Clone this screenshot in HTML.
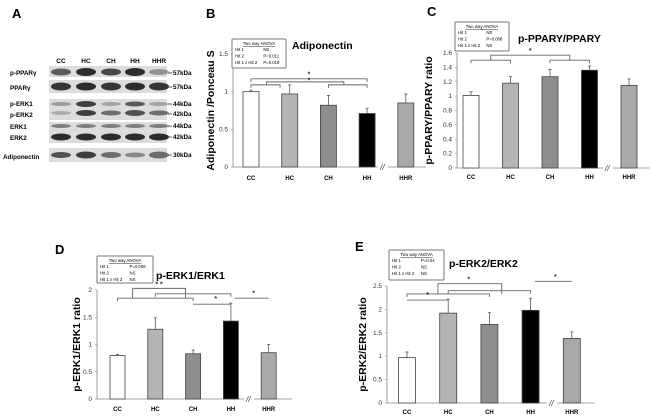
<!DOCTYPE html>
<html><head><meta charset="utf-8"><style>
body{margin:0;background:#fff;}
svg{display:block;font-family:"Liberation Sans",sans-serif;}
</style></head><body>
<svg id="fig" width="650" height="418" viewBox="0 0 650 418">
<g id="blot"></g>
</svg>
<script>
const cats = ["CC","HC","CH","HH","HHR"];
const adipoVals = [1.0,0.97,0.82,0.71,0.85];
const adipoErr = [0.02,0.12,0.13,0.07,0.12];
const pparVals = [1.01,1.18,1.27,1.36,1.15];
const pparErr = [0.05,0.09,0.10,0.06,0.09];
const erk1Vals = [0.80,1.28,0.83,1.43,0.85];
const erk1Err = [0.02,0.21,0.07,0.33,0.15];
const erk2Vals = [0.97,1.92,1.68,1.98,1.38];
const erk2Err = [0.12,0.30,0.25,0.26,0.14];
const adipoTicks = ["0","0.5","1","1.5"];
const pparTicks = ["0","0.2","0.4","0.6","0.8","1","1.2","1.4","1.6"];
const erk1Ticks = ["0","0.5","1","1.5","2"];
const erk2Ticks = ["0","0.5","1","1.5","2","2.5"];
const fills = ["#ffffff","#b4b4b4","#8e8e8e","#000000","#a9a9a9"];

const NS="http://www.w3.org/2000/svg";
const svg=document.getElementById('fig');
function mk(tag,attrs,parent,text){const e=document.createElementNS(NS,tag);for(const k in attrs)e.setAttribute(k,attrs[k]);if(text!==undefined)e.textContent=text;(parent||svg).appendChild(e);return e;}

function panel(o){
  const g=mk('g',{});
  
  
  const yMax=parseFloat(o.ticks[o.ticks.length-1]);
  const y=v=>o.y0-(v/yMax)*(o.y0-o.yTop);
  // letter
  const L=mk('text',{x:o.letter[0],y:o.letter[1],'font-size':13,'font-weight':'bold'},g,o.letterText);
  
  
  // y axis
  const ya=mk('line',{x1:o.ax,x2:o.ax,y1:o.yTop,y2:o.y0,stroke:'#888','stroke-width':0.8},g);
  
  
  o.ticks.forEach(t=>{
    const v=parseFloat(t);
    mk('line',{x1:o.ax-2,x2:o.ax,y1:y(v),y2:y(v),stroke:'#888','stroke-width':0.6},g);
    const tl=mk('text',{x:o.ax-5,y:y(v)+2,'font-size':6.5,'text-anchor':'end',fill:'#333'},g,t);
    
    
  });
  // x axis
  const xa=mk('line',{x1:o.ax,x2:o.axEnd,y1:o.y0,y2:o.y0,stroke:'#888','stroke-width':0.8},g);
  
  
  mk('line',{x1:o.axEnd+10,x2:o.axEnd+48,y1:o.y0,y2:o.y0,stroke:'#888','stroke-width':0.8},g);
  const br=mk('text',{x:o.axEnd+2,y:o.y0+3,'font-size':8,'font-style':'italic',fill:'#333'},g,'//');
  
  
  // bars
  cats.forEach((c,i)=>{
    const cx=o.x0+i*o.step, w=o.bw, v=o.vals[i];
    const eb=mk('line',{x1:cx,x2:cx,y1:y(v),y2:y(v+o.err[i]),stroke:'#555','stroke-width':0.8},g);
    
    
    mk('line',{x1:cx-1.5,x2:cx+1.5,y1:y(v+o.err[i]),y2:y(v+o.err[i]),stroke:'#555','stroke-width':0.8},g);
    const r=mk('rect',{x:cx-w/2,y:y(v),width:w,height:o.y0-y(v),fill:fills[i],stroke:'#444','stroke-width':0.8},g);
    
    
    const cl=mk('text',{x:cx,y:o.y0+o.labOff,'font-size':6,'font-weight':'bold','text-anchor':'middle'},g,c);
    
    
  });
  // y title
  const yt=mk('text',{x:0,y:0,'font-size':10.5,'font-weight':'bold','text-anchor':'middle',transform:`translate(${o.ytx},${(o.yTop+o.y0)/2}) rotate(-90)`},g,o.ytitle);
  
  
  // chart title
  const ct=mk('text',{x:o.title[0],y:o.title[1],'font-size':10.5,'font-weight':'bold'},g,o.titleText);
  
  
  // anova box
  const bx=o.box;
  const bg=mk('g',{},g);
  
  
  mk('rect',{x:bx[0],y:bx[1],width:bx[2],height:bx[3],fill:'#fff',stroke:'#777','stroke-width':1,rx:1},bg);
  mk('text',{x:bx[0]+bx[2]/2,y:bx[1]+6,'font-size':4.3,'text-anchor':'middle','text-decoration':'underline'},bg,'Two way ANOVA');
  const rows=[['Hit 1',o.anova[0]],['Hit 2',o.anova[1]],['Hit 1 x Hit 2',o.anova[2]]];
  rows.forEach((rw,k)=>{
    mk('text',{x:bx[0]+3,y:bx[1]+12+k*6.5,'font-size':4.3},bg,rw[0]);
    mk('text',{x:bx[0]+bx[2]*0.58,y:bx[1]+12+k*6.5,'font-size':4.3},bg,rw[1]);
  });
  // brackets: [i, j, value, star]  (bar-index spans)
  const bkg=mk('g',{stroke:'#666','stroke-width':0.9,fill:'none'},g);
  
  
  const bxp=i=>o.x0+i*o.step;
  (o.brackets||[]).forEach(b=>{
    const x1=typeof b[0]==='number'?bxp(b[0]):b[0].x, x2=typeof b[1]==='number'?bxp(b[1]):b[1].x;
    const yy=y(b[2]);
    mk('path',{d:`M${x1},${yy+3}V${yy}H${x2}V${yy+3}`},bkg);
  });
  (o.joins||[]).forEach(j=>{
    const yb=y(j[2]),yt2=y(j[3]);
    const xa1=o.x0+j[0]*o.step, xa2=o.x0+j[1]*o.step;
    mk('path',{d:`M${xa1},${yb}V${yt2}H${xa2}V${yb}`},bkg);
  });
  (o.stars||[]).forEach(s=>{
    const st=mk('text',{x:o.x0+s[0]*o.step,y:y(s[1]),'font-size':7,'text-anchor':'middle','font-weight':'bold',fill:'#333',stroke:'none'},g,s[2]);
    
    
  });
  (o.lines||[]).forEach(l=>{
    mk('line',{x1:o.x0+l[0]*o.step,x2:o.x0+l[1]*o.step,y1:y(l[2]),y2:y(l[2]),stroke:'#666','stroke-width':0.9},g);
  });
}

// Panel B
panel({name:'adiponectin-chart',letterText:'B',letter:[206,18],ax:233,axEnd:378,yTop:54,y0:167,x0:251,step:38.7,bw:16,
 vals:adipoVals,err:adipoErr,ticks:adipoTicks,labOff:13,ytx:214,ytitle:'Adiponectin /Ponceau S',
 title:[292,49],titleText:'Adiponectin',box:[232,39,54,29],anova:['NS','P=0.011','P=0.018'],
 brackets:[[0,3,1.17],[0,0.75,1.09],[2,3,1.09]],joins:[[0.4,2.4,1.09,1.13]],
 stars:[[1.5,1.12,'*'],[1.5,1.2,'*']]});
// Panel C
panel({name:'p-ppar-chart',letterText:'C',letter:[427,16],ax:457,axEnd:603,yTop:53,y0:168,x0:471,step:39.5,bw:16,
 vals:pparVals,err:pparErr,ticks:pparTicks,labOff:11,ytx:432,ytitle:'p-PPARY/PPARY ratio',
 title:[518,42],titleText:'p-PPARY/PPARY',box:[455,22,54,29],anova:['NS','P=0.008','NS'],
 brackets:[[0,1,1.5],[2,3,1.5]],joins:[[0.5,2.5,1.5,1.57]],stars:[[1.5,1.6,'*']]});
// Panel D
panel({name:'p-erk1-chart',letterText:'D',letter:[55,254],ax:97,axEnd:244,yTop:290,y0:399,x0:117.5,step:37.8,bw:15,
 vals:erk1Vals,err:erk1Err,ticks:erk1Ticks,labOff:12,ytx:80,ytitle:'p-ERK1/ERK1 ratio',
 title:[156,279],titleText:'p-ERK1/ERK1',box:[97,256,56,27],anova:['P=0.006','NS','NS'],
 brackets:[[0,2,1.85],[1,3,1.93]],joins:[[0.4,1.8,1.85,2.03]],lines:[[2,3,1.74],[3.1,4,1.85]],
 stars:[[1.1,2.06,'* *'],[2.6,1.8,'*'],[3.6,1.9,'*']]});
// Panel E
panel({name:'p-erk2-chart',letterText:'E',letter:[355,251],ax:387,axEnd:547,yTop:286,y0:403,x0:407,step:41.2,bw:17,
 vals:erk2Vals,err:erk2Err,ticks:erk2Ticks,labOff:11,ytx:366,ytitle:'p-ERK2/ERK2 ratio',
 title:[449,267],titleText:'p-ERK2/ERK2',box:[389,250,55,30],anova:['P=0.04','NS','NS'],
 brackets:[[0,2,2.33],[1,3,2.4]],joins:[[0.75,2.3,2.33,2.55]],lines:[[0,1,2.2],[3.1,4,2.6]],
 stars:[[1.5,2.6,'*'],[0.5,2.26,'*'],[3.6,2.65,'*']]});

// Panel A - western blot
const blot=document.getElementById('blot');
const lanes=[61,86,111,135,159];
const Aletter=mk('text',{x:12,y:18,'font-size':13,'font-weight':'bold'},blot,'A');


cats.forEach((c,i)=>{const t=mk('text',{x:lanes[i],y:63,'font-size':6.5,'font-weight':'bold','text-anchor':'middle'},blot,c);
 
 });
const strips=[
 {name:'p-PPARγ',y:66,h:11,bands:[[72,3.5,0.7],[72,4,0.95],[72,3.5,0.8],[72,4,0.95],[72,3,0.4]],kda:[['57kDa',73]]},
 {name:'PPARγ',y:80,h:13,bands:[[86.5,4,0.9],[86.5,4,0.95],[86.5,4,0.9],[86.5,4,0.95],[86.5,4,0.9]],kda:[['57kDa',87]]},
 {name:'',y:99,h:21,bands:[[104,2,0.35],[104,3,0.85],[104,2,0.3],[104,2.5,0.7],[104,2,0.3],[113,2,0.25],[113,3,0.85],[113,2.5,0.6],[113,3,0.75],[113,2.5,0.6]],kda:[['44kDa',104],['42kDa',114]]},
 {name:'',y:122,h:21,bands:[[126,2,0.5],[126,2,0.5],[126,2,0.5],[126,2,0.5],[126,2,0.5],[137,3.5,0.95],[137,3.5,0.95],[137,3.5,0.95],[137,3.5,0.95],[137,3.5,0.95]],kda:[['44kDa',126],['42kDa',137]]},
 {name:'Adiponectin',y:148,h:14,bands:[[155,3,0.75],[155,3.5,0.85],[155,3,0.6],[155,2.5,0.45],[155,3.5,0.6]],kda:[['30kDa',155]]}
];
const rowLabels=[['p-PPARγ',73],['PPARγ',88],['p-ERK1',104],['p-ERK2',115],['ERK1',127],['ERK2',138],['Adiponectin',157]];
rowLabels.forEach(r=>{const t=mk('text',{x:r[0]==='Adiponectin'?3:10,y:r[1]+2,'font-size':6.3,'font-weight':'bold'},blot,r[0]);
 
 });
strips.forEach(s=>{
 const sg=mk('g',{},blot);
 
 
 mk('rect',{x:49,y:s.y,width:118,height:s.h,fill:'#dcdcdc'},sg);
 s.bands.forEach((b,k)=>{const cx=lanes[k%5];
  mk('ellipse',{cx:cx,cy:b[0],rx:10,ry:b[1],fill:'#222','fill-opacity':b[2]},sg);});
 s.kda.forEach(kd=>{
  mk('line',{x1:168,x2:172,y1:kd[1],y2:kd[1],stroke:'#333','stroke-width':0.8},sg);
  mk('text',{x:173,y:kd[1]+2,'font-size':6.3,'font-weight':'bold'},sg,kd[0]);
 });
});
</script>
</body></html>
